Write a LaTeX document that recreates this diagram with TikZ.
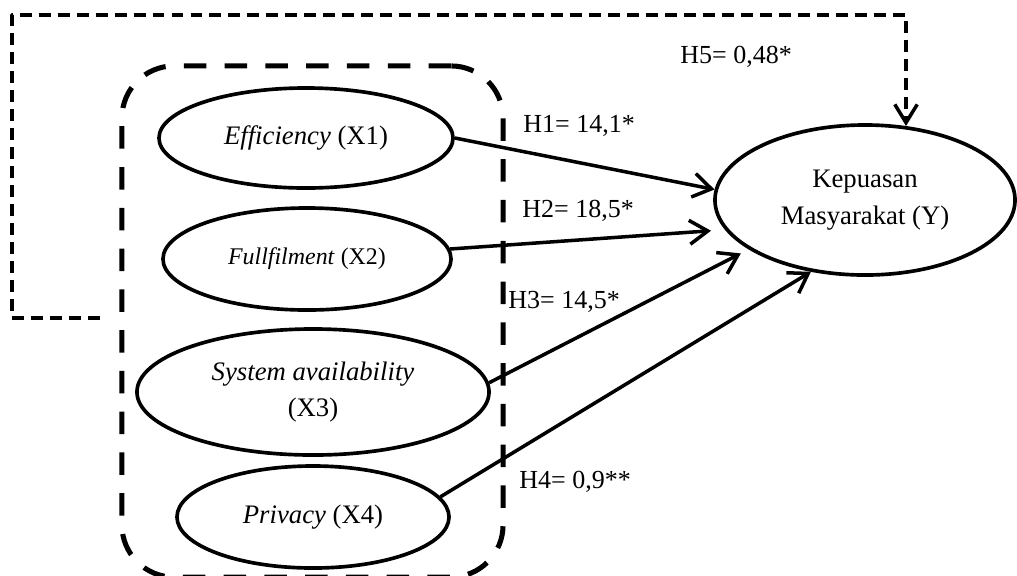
\documentclass[tikz,border=0pt]{standalone}
\usepackage{fontspec}
\setmainfont{Liberation Serif}
\usetikzlibrary{shapes.geometric, arrows.meta}

\begin{document}
\begin{tikzpicture}[x=0.025cm, y=-0.025cm,
    var/.style={draw, ellipse, line width=2.6pt, inner sep=0pt, align=center,
        font=\fontsize{19}{26}\selectfont},
    hyp/.style={line width=2.5pt, -{Straight Barb[length=13pt, width=17pt, line width=2.5pt]}},
    fb/.style={line width=2.7pt, dash pattern=on 8.5pt off 5pt, line join=round,
        -{Straight Barb[length=13pt, width=16pt, line width=2.5pt]}},
    grp/.style={draw, line width=3.6pt, dash pattern=on 16pt off 13pt,
        rounded corners=1.3cm, minimum width=9.525cm, minimum height=12.775cm},
    lbl/.style={anchor=base west, inner sep=0pt, font=\fontsize{18.5}{22}\selectfont}]
        \useasboundingbox (0,0) rectangle (1017,575);

        % Kelompok variabel X
        \node[grp] (grp) at (312.5,321.5) {};

        % Variabel bebas
        \node[var, minimum width=7.35cm, minimum height=2.5cm] (x1) at (306,138) {\textit{Efficiency} (X1)};
        \node[var, minimum width=7.2cm, minimum height=2.55cm, font=\fontsize{17}{24}\selectfont] (x2) at (307,259) {\textit{Fullfilment} (X2)};
        \node[var, minimum width=8.8cm, minimum height=3.15cm] (x3) at (313,392) {\textit{System availability}\\(X3)};
        \node[var, minimum width=6.8cm, minimum height=2.55cm] (x4) at (313,517) {\textit{Privacy} (X4)};

        % Variabel terikat
        \node[var, minimum width=7.5cm, minimum height=3.75cm] (y) at (865,200) {Kepuasan\\Masyarakat (Y)};

        % Hipotesis
        \draw[hyp] (x1.east) -- (y.176);
        \draw[hyp, shorten >=0.35cm] (x2.4) -- (y.192);
        \draw[hyp, shorten >=0.22cm] (x3.3) -- (y.203);
        \draw[hyp] (x4.9) -- (y.233);

        % Pengaruh simultan
        \coordinate (fbstart) at (100,318);
        \draw[fb] (fbstart) -- (12,318) -- (12,15) -| (y.61);

        % Label
        \node[lbl] (h1) at (523,132) {H1= 14,1*};
        \node[lbl] (h2) at (522,217) {H2= 18,5*};
        \node[lbl] (h3) at (508,308) {H3= 14,5*};
        \node[lbl] (h4) at (519,488) {H4= 0,9**};
        \node[lbl] (h5) at (680,63) {H5= 0,48*};
    \end{tikzpicture}
\end{document}
